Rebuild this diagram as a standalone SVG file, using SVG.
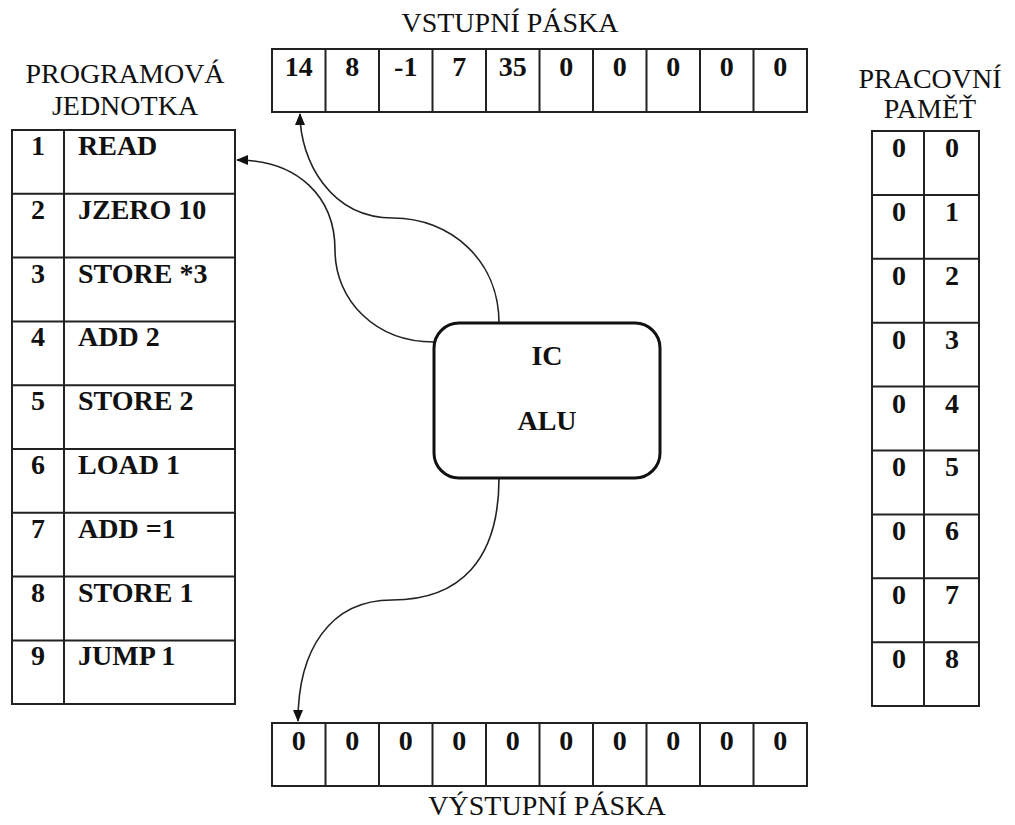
<svg xmlns="http://www.w3.org/2000/svg" width="1015" height="825" viewBox="0 0 1015 825">
  <style>
    .title { font-family: "Liberation Serif", "Times New Roman", serif; font-size: 28px; fill: #111; text-anchor: middle; }
    .cell { font-family: "Liberation Serif", "Times New Roman", serif; font-size: 28px; font-weight: bold; fill: #111; }
    .mid { text-anchor: middle; }
    .grid { fill: #fff; stroke: #222; stroke-width: 2; }
    .line { fill: none; stroke: #222; stroke-width: 2; }
    .wire { fill: none; stroke: #222; stroke-width: 1.6; marker-end: url(#arrow); }
    .box { fill: #fff; stroke: #111; stroke-width: 3; }
  </style>
  <defs>
    <marker id="arrow" viewBox="0 0 12 10" refX="11" refY="5" markerWidth="12" markerHeight="10" markerUnits="userSpaceOnUse" orient="auto">
      <path d="M0,0 L12,5 L0,10 Z" fill="#111"/>
    </marker>
  </defs>
  <rect width="1015" height="825" fill="#fff"/>

  <!-- input tape -->
  <g id="input-tape">
    <text class="title" x="510" y="32">VSTUPNÍ PÁSKA</text>
    <rect class="grid" x="272" y="49" width="535" height="63"/>
    <path class="line" d="M325.5 49V112M379 49V112M432.5 49V112M486 49V112M539.5 49V112M593 49V112M646.5 49V112M700 49V112M753.5 49V112"/>
    <g class="cell mid">
      <text x="298.75" y="76">14</text>
      <text x="352.25" y="76">8</text>
      <text x="405.75" y="76">-1</text>
      <text x="459.25" y="76">7</text>
      <text x="512.75" y="76">35</text>
      <text x="566.25" y="76">0</text>
      <text x="619.75" y="76">0</text>
      <text x="673.25" y="76">0</text>
      <text x="726.75" y="76">0</text>
      <text x="780.25" y="76">0</text>
    </g>
  </g>

  <!-- program unit -->
  <g id="program-unit">
    <text class="title" x="125" y="83">PROGRAMOVÁ</text>
    <text class="title" x="125" y="115">JEDNOTKA</text>
    <rect class="grid" x="12" y="130" width="223" height="574"/>
    <path class="line" d="M64 130V704M12 193.8H235M12 257.6H235M12 321.4H235M12 385.2H235M12 449H235M12 512.8H235M12 576.6H235M12 640.4H235"/>
    <g class="cell">
      <text class="mid" x="38" y="155">1</text><text x="78" y="155">READ</text>
      <text class="mid" x="38" y="219">2</text><text x="78" y="219">JZERO 10</text>
      <text class="mid" x="38" y="283">3</text><text x="78" y="283">STORE *3</text>
      <text class="mid" x="38" y="346">4</text><text x="78" y="346">ADD 2</text>
      <text class="mid" x="38" y="410">5</text><text x="78" y="410">STORE 2</text>
      <text class="mid" x="38" y="474">6</text><text x="78" y="474">LOAD 1</text>
      <text class="mid" x="38" y="538">7</text><text x="78" y="538">ADD =1</text>
      <text class="mid" x="38" y="602">8</text><text x="78" y="602">STORE 1</text>
      <text class="mid" x="38" y="665">9</text><text x="78" y="665">JUMP 1</text>
    </g>
  </g>

  <!-- working memory -->
  <g id="working-memory">
    <text class="title" x="930" y="88">PRACOVNÍ</text>
    <text class="title" x="930" y="118">PAMĚŤ</text>
    <rect class="grid" x="872" y="131" width="107" height="575"/>
    <path class="line" d="M924 131V706M872 194.9H979M872 258.8H979M872 322.7H979M872 386.6H979M872 450.5H979M872 514.4H979M872 578.3H979M872 642.2H979"/>
    <g class="cell mid">
      <text x="899" y="157">0</text><text x="952" y="157">0</text>
      <text x="899" y="221">0</text><text x="952" y="221">1</text>
      <text x="899" y="285">0</text><text x="952" y="285">2</text>
      <text x="899" y="349">0</text><text x="952" y="349">3</text>
      <text x="899" y="413">0</text><text x="952" y="413">4</text>
      <text x="899" y="476">0</text><text x="952" y="476">5</text>
      <text x="899" y="540">0</text><text x="952" y="540">6</text>
      <text x="899" y="604">0</text><text x="952" y="604">7</text>
      <text x="899" y="668">0</text><text x="952" y="668">8</text>
    </g>
  </g>

  <!-- output tape -->
  <g id="output-tape">
    <rect class="grid" x="272" y="723" width="535" height="63"/>
    <path class="line" d="M325.5 723V786M379 723V786M432.5 723V786M486 723V786M539.5 723V786M593 723V786M646.5 723V786M700 723V786M753.5 723V786"/>
    <g class="cell mid">
      <text x="298.75" y="750">0</text>
      <text x="352.25" y="750">0</text>
      <text x="405.75" y="750">0</text>
      <text x="459.25" y="750">0</text>
      <text x="512.75" y="750">0</text>
      <text x="566.25" y="750">0</text>
      <text x="619.75" y="750">0</text>
      <text x="673.25" y="750">0</text>
      <text x="726.75" y="750">0</text>
      <text x="780.25" y="750">0</text>
    </g>
    <text class="title" x="547" y="815">VÝSTUPNÍ PÁSKA</text>
  </g>

  <!-- connectors -->
  <g id="connectors">
    <path class="wire" d="M499 323C499 260 450 218 393 218C330 218 300 160 300 114"/>
    <path class="wire" d="M434 342C375 342 335 300 335 250C335 197 298 160 237 160"/>
    <path class="wire" d="M499 478C499 560 460 600 392 600C330 600 298 650 298 721"/>
  </g>

  <!-- control unit / ALU -->
  <g id="ic-alu">
    <rect class="box" x="434" y="323" width="226" height="155" rx="25" ry="25"/>
    <text class="cell mid" x="547" y="365">IC</text>
    <text class="cell mid" x="547" y="430">ALU</text>
  </g>
</svg>
